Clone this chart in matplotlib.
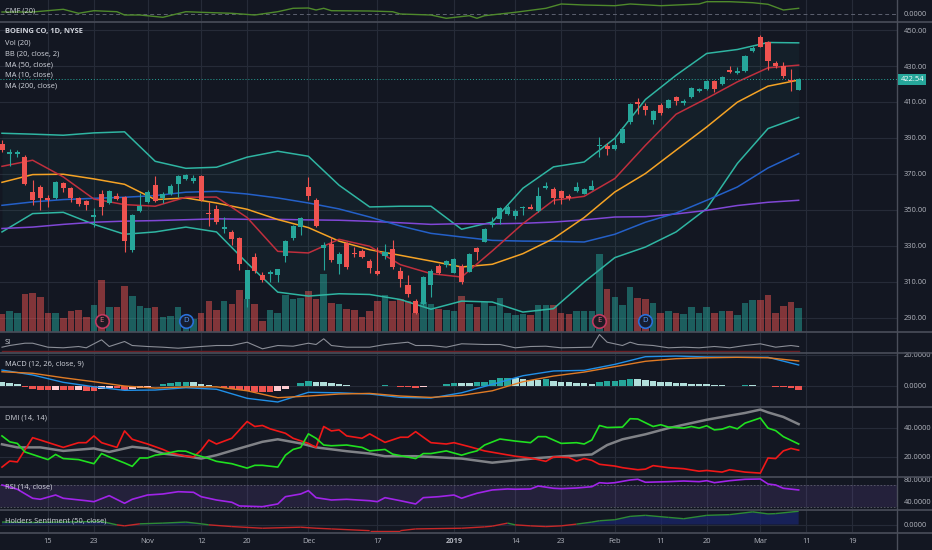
import numpy as np
import pandas as pd
import matplotlib
matplotlib.use("Agg")
import matplotlib.pyplot as plt
from matplotlib.lines import Line2D
from matplotlib.collections import LineCollection
from matplotlib.transforms import blended_transform_factory

plt.rcParams['font.family'] = ['Open Sans', 'DejaVu Sans']

# ---------------- data ----------------
FIRST_BAR = "2018-10-05"
LAST_AXIS_DAY = "2019-03-29"
HOLIDAYS = ["2018-11-22", "2018-12-05", "2018-12-25", "2019-01-01", "2019-01-21", "2019-02-18"]

TICK_DATES = ["2018-10-15", "2018-10-23", "2018-11-01", "2018-11-12", "2018-11-20", "2018-12-03",
              "2018-12-17", "2019-01-02", "2019-01-14", "2019-01-23", "2019-02-01", "2019-02-11",
              "2019-02-20", "2019-03-01", "2019-03-11", "2019-03-19"]
TICK_LABELS = ["15", "23", "Nov", "12", "20", "Dec", "17", "2019", "14", "23", "Feb", "11",
               "20", "Mar", "11", "19"]

OPEN = [386.5, 380.8, 381.0, 379.4, 359.9, 362.7, 356.6, 356.8, 365.0, 362.0,
        356.4, 354.9, 346.0, 358.7, 353.8, 357.5, 357.1, 327.5, 349.3, 354.4,
        363.7, 356.3, 358.7, 364.1, 367.4, 366.1, 368.7, 348.2, 350.7, 339.3,
        337.7, 334.3, 300.6, 323.7, 313.9, 314.3, 313.9, 324.3, 334.5, 340.4,
        362.7, 355.3, 328.7, 331.2, 320.1, 331.7, 326.2, 326.9, 321.3, 315.8,
        324.1, 328.0, 315.8, 308.0, 299.4, 297.4, 307.9, 318.7, 319.5, 315.0,
        318.5, 315.4, 328.9, 332.1, 341.4, 345.1, 347.5, 346.6, 351.0, 351.6,
        349.3, 362.2, 361.4, 360.3, 357.5, 360.5, 359.0, 361.3, 385.4, 385.4,
        384.1, 387.2, 398.6, 410.1, 407.8, 399.9, 408.2, 406.9, 412.5, 409.2,
        412.5, 415.9, 417.1, 421.8, 419.8, 427.7, 426.2, 427.2, 438.3, 446.3,
        443.1, 431.5, 430.0, 422.5, 416.6]
HIGH = [388.7, 383.7, 383.2, 380.3, 366.4, 363.7, 358.1, 365.9, 365.3, 362.5,
        357.0, 355.3, 350.9, 360.9, 360.9, 359.2, 357.5, 347.5, 359.2, 360.9,
        368.7, 359.9, 364.2, 369.2, 369.8, 369.2, 369.2, 354.4, 352.5, 346.0,
        338.6, 334.9, 316.3, 325.8, 315.4, 316.3, 317.3, 333.0, 341.4, 346.0,
        368.0, 356.8, 332.1, 334.9, 326.5, 332.1, 329.3, 328.0, 322.8, 329.3,
        331.2, 333.0, 318.2, 313.5, 300.6, 313.0, 317.3, 320.0, 321.9, 323.0,
        320.0, 325.8, 329.3, 339.7, 346.0, 351.6, 352.5, 350.7, 352.0, 353.5,
        362.7, 365.5, 362.7, 360.9, 359.0, 365.5, 362.0, 366.4, 390.6, 386.9,
        390.6, 396.0, 409.3, 412.0, 409.2, 405.4, 409.2, 411.6, 413.2, 411.6,
        418.3, 417.7, 422.2, 422.2, 424.4, 429.9, 429.2, 436.1, 441.1, 447.2,
        444.0, 432.9, 432.3, 428.1, 423.1]
LOW = [382.0, 374.2, 379.5, 363.7, 352.5, 349.7, 351.4, 356.2, 359.8, 354.2,
       352.0, 349.7, 340.3, 346.9, 353.0, 355.3, 326.5, 326.5, 348.8, 353.6,
       354.2, 353.6, 358.1, 357.0, 366.4, 364.8, 354.8, 340.8, 342.2, 336.9,
       330.2, 316.3, 295.9, 314.7, 309.8, 309.8, 309.8, 320.9, 333.0, 335.8,
       355.3, 340.4, 316.3, 320.9, 314.5, 317.3, 323.7, 323.0, 314.8, 313.5,
       322.8, 317.3, 307.0, 301.4, 292.2, 296.8, 301.4, 314.5, 318.2, 314.7,
       308.9, 315.2, 321.9, 331.9, 340.4, 342.3, 347.0, 345.1, 347.0, 350.7,
       348.8, 361.8, 353.5, 353.5, 355.3, 359.9, 358.7, 360.9, 379.4, 380.4,
       383.2, 387.1, 398.0, 403.2, 402.7, 398.0, 402.7, 406.6, 408.2, 408.2,
       412.1, 415.5, 416.6, 415.6, 419.4, 426.4, 425.5, 426.6, 437.6, 440.5,
       427.7, 428.7, 423.1, 416.2, 416.4]
CLOSE = [383.2, 382.2, 382.0, 364.2, 355.3, 356.6, 355.3, 365.3, 362.2, 356.4,
         353.1, 352.5, 346.9, 351.4, 360.5, 355.9, 332.6, 346.9, 352.0, 359.9,
         354.8, 358.7, 363.3, 368.7, 369.1, 367.7, 355.3, 347.5, 343.2, 340.3,
         334.0, 319.7, 316.3, 315.9, 311.1, 315.4, 316.9, 332.5, 341.0, 345.5,
         357.9, 340.8, 330.6, 321.9, 325.2, 318.2, 325.4, 323.7, 317.6, 314.5,
         326.5, 318.2, 311.7, 303.0, 292.8, 312.6, 315.8, 314.8, 321.3, 322.4,
         309.8, 325.6, 326.5, 339.2, 342.5, 351.0, 351.6, 349.2, 351.6, 350.7,
         357.5, 363.3, 356.6, 356.6, 356.6, 362.7, 361.4, 363.3, 386.0, 383.7,
         385.8, 395.2, 408.6, 408.6, 405.4, 405.0, 403.9, 411.0, 410.6, 410.5,
         417.9, 417.0, 421.6, 417.5, 424.0, 426.8, 427.2, 435.7, 440.1, 440.7,
         432.9, 430.0, 424.5, 421.8, 422.54]
VOLUME_M = [2.6, 3.0, 2.7, 5.6, 5.7, 5.1, 2.7, 2.7, 2.0, 3.0,
            3.2, 2.1, 4.0, 7.7, 3.6, 3.6, 6.8, 5.3, 3.8, 3.5,
            3.7, 2.1, 2.3, 3.7, 2.1, 1.8, 2.8, 4.5, 3.2, 4.5,
            4.1, 6.2, 4.8, 4.1, 1.5, 3.2, 2.7, 5.4, 4.9, 5.0,
            6.0, 4.8, 8.6, 4.2, 4.1, 3.3, 3.2, 2.1, 3.0, 4.5,
            5.4, 4.5, 4.9, 4.5, 2.8, 4.4, 4.1, 3.3, 3.2, 3.0,
            5.3, 4.1, 3.7, 4.4, 3.8, 5.0, 2.8, 2.4, 2.6, 2.5,
            3.9, 3.9, 4.0, 2.8, 2.6, 3.0, 3.0, 3.0, 11.6, 6.3,
            5.2, 3.9, 6.6, 5.0, 4.8, 4.2, 2.8, 3.0, 2.8, 2.6,
            3.7, 2.8, 3.7, 2.7, 3.0, 3.0, 2.4, 4.2, 4.7, 4.7,
            5.4, 2.7, 3.8, 4.4, 3.5]
LAST_PRICE = 422.54
EARNINGS_DATES = ["2018-10-24", "2019-01-30"]
DIVIDEND_DATES = ["2018-11-08", "2019-02-07"]

# overlays read every 4th bar
OVL_IDX = [0, 4, 8, 12, 16, 20, 24, 28, 32, 36, 40, 44, 48, 52, 56, 60, 64, 68, 72, 76,
           80, 84, 88, 92, 96, 100, 104]
BB_UPPER = [392.6, 392.1, 391.5, 392.8, 393.4, 377.0, 373.1, 373.7, 379.3, 382.6, 379.8, 363.7,
            351.6, 352.0, 352.0, 339.2, 343.2, 362.0, 373.9, 376.6, 389.8, 411.4, 424.9, 437.0,
            439.2, 443.1, 442.9]
BB_LOWER = [337.7, 347.9, 348.6, 341.9, 336.4, 337.7, 340.4, 337.7, 320.4, 304.2, 302.0, 303.3,
            302.9, 300.1, 294.7, 299.2, 298.7, 293.1, 295.0, 309.8, 323.4, 329.3, 337.7, 350.7,
            375.8, 395.2, 401.4]
BB_BASIS = [365.3, 369.6, 369.8, 367.2, 364.2, 355.7, 356.6, 353.8, 350.3, 344.6, 340.1, 332.6,
            327.8, 324.7, 321.5, 318.2, 319.7, 325.6, 334.0, 345.7, 359.9, 370.2, 383.2, 396.1,
            409.9, 418.8, 422.2]
MA10 = [374.2, 377.6, 368.3, 356.0, 352.9, 352.0, 357.0, 357.1, 345.7, 326.9, 326.0, 333.6,
        329.7, 319.5, 314.5, 312.6, 327.1, 342.3, 355.3, 357.5, 367.4, 385.9, 403.2, 412.0,
        421.2, 429.0, 430.5]
MA50 = [352.5, 354.4, 355.7, 356.4, 357.0, 357.9, 359.8, 360.3, 358.8, 356.6, 353.8, 350.5,
        346.0, 341.0, 336.9, 334.9, 333.0, 332.6, 332.5, 332.1, 336.4, 343.1, 348.2, 355.3,
        362.7, 373.3, 381.3]
MA200 = [339.6, 340.4, 341.9, 343.1, 343.7, 344.0, 344.5, 345.0, 344.7, 344.7, 344.4, 344.2,
         343.6, 342.8, 341.9, 342.3, 342.2, 342.5, 343.2, 344.4, 346.0, 346.2, 347.7, 349.7,
         352.4, 354.2, 355.3]
MACD_LINE = [10.2, 7.0, 2.2, -0.7, -3.0, -2.8, -1.3, -2.3, -8.2, -10.6, -4.3, -4.6, -5.4, -7.6,
             -8.0, -4.6, 0.9, 6.5, 9.6, 10.0, 13.9, 18.9, 19.3, 18.7, 18.5, 18.5, 13.5]
MACD_SIGNAL = [9.1, 8.1, 5.2, 2.6, -0.2, -1.5, -0.8, -0.7, -3.3, -7.8, -6.7, -5.4, -5.0, -6.7,
               -7.6, -6.3, -3.3, 2.6, 6.3, 8.9, 12.4, 15.9, 17.6, 18.2, 18.5, 18.2, 16.1]
MACD_HIST = [2.2, 1.5, 1.1, -0.7, -2.0, -2.8, -2.8, -2.6, -2.8, -3.0,
             -2.8, -3.3, -3.3, -2.4, -1.7, -1.7, -2.8, -2.4, -1.3, -0.7,
             0.0, 0.9, 1.5, 2.2, 2.6, 2.4, 1.3, 0.2, -0.4, -1.3,
             -2.2, -3.0, -3.7, -4.1, -4.3, -4.3, -3.7, -2.2, -0.4, 1.5,
             3.3, 2.6, 2.6, 1.5, 1.1, 0.2, 0.0, 0.0, -0.4, 0.0,
             0.2, 0.0, -0.7, -1.1, -1.7, -1.1, -0.4, 0.0, 1.1, 1.5,
             1.5, 1.5, 2.2, 2.6, 3.7, 4.8, 5.2, 4.8, 4.1, 3.7,
             3.7, 4.1, 3.3, 2.6, 2.2, 2.0, 1.5, 1.1, 2.6, 3.0,
             3.3, 3.7, 4.3, 4.3, 3.7, 3.3, 2.6, 2.2, 2.0, 1.5,
             1.1, 0.9, 0.9, 0.4, 0.2, 0.05, 0.05, 0.2, 0.2, 0.1,
             -0.05, -0.7, -1.1, -1.7, -2.8]

CMF_IDX = [0, 4, 8, 10, 12, 15, 16, 18, 21, 24, 26, 30, 33, 36, 38, 40, 41, 42, 43, 48, 51,
           52, 56, 58, 61, 62, 63, 67, 71, 73, 76, 80, 82, 86, 91, 92, 95, 98, 100, 102, 104]
CMF = [0.04, 0.04, 0.094, 0.014, 0.066, 0.046, -0.02, -0.02, -0.066, 0.046, 0.034, 0.014,
       -0.02, 0.046, 0.114, 0.12, 0.08, 0.114, 0.066, 0.06, 0.046, 0.0, -0.02, -0.086, -0.034,
       -0.086, -0.034, 0.034, 0.114, 0.2, 0.18, 0.166, 0.2, 0.166, 0.2, 0.246, 0.246, 0.226,
       0.194, 0.08, 0.114]

SI_IDX = [0, 1, 3, 4, 6, 8, 10, 11, 13, 14, 16, 17, 19, 21, 23, 26, 28, 30, 32, 34, 36, 38,
          40, 41, 42, 43, 45, 48, 50, 53, 54, 56, 58, 60, 63, 65, 67, 69, 71, 73, 77, 78, 79,
          81, 82, 83, 85, 87, 89, 91, 93, 95, 97, 99, 101, 103, 104]
SI = [4.3, 6.0, 8.3, 8.3, 4.3, 3.7, 5.0, 3.7, 11.7, 5.0, 10.0, 6.0, 5.0, 4.3, 3.3, 5.0, 6.0,
      6.0, 9.3, 2.7, 6.0, 5.3, 8.3, 7.0, 12.7, 6.0, 4.3, 4.3, 7.0, 9.3, 6.0, 6.0, 4.3, 7.7,
      7.0, 7.0, 3.7, 5.0, 5.3, 3.7, 4.3, 17.0, 9.3, 6.0, 9.3, 7.0, 6.0, 3.7, 4.3, 3.7, 5.0,
      3.7, 6.0, 7.7, 4.3, 6.0, 5.0]

PDI_IDX = [0, 1, 2, 3, 6, 7, 8, 10, 12, 13, 14, 16, 17, 18, 19, 20, 21, 23, 24, 25, 27, 28,
           30, 32, 33, 34, 36, 37, 38, 39, 40, 41, 42, 43, 45, 47, 48, 50, 51, 54, 55, 56, 58,
           60, 61, 62, 63, 65, 67, 69, 70, 71, 73, 75, 76, 77, 78, 79, 81, 82, 83, 85, 86, 87,
           89, 90, 91, 92, 93, 94, 95, 96, 97, 99, 100, 101, 102, 104]
PLUS_DI = [34.3, 30.3, 29.2, 23.4, 18.2, 21.7, 18.9, 18.2, 15.4, 22.3, 20.0, 15.9, 13.6, 19.3,
           19.3, 21.2, 21.9, 24.1, 23.9, 21.9, 18.9, 17.0, 15.4, 12.4, 14.3, 14.3, 13.1, 21.2,
           25.1, 26.5, 35.7, 32.7, 28.1, 27.6, 28.1, 26.5, 24.1, 25.1, 21.9, 18.9, 22.3, 22.3,
           24.1, 21.2, 22.8, 24.1, 28.1, 32.2, 30.8, 29.7, 33.8, 33.8, 29.2, 29.7, 28.8, 31.5,
           41.4, 40.0, 40.3, 46.0, 45.8, 40.7, 41.9, 40.3, 39.6, 40.7, 39.6, 41.2, 38.4, 38.9,
           40.7, 39.1, 43.0, 46.5, 39.6, 37.9, 33.8, 28.8]
MDI_IDX = [0, 1, 2, 4, 5, 8, 10, 11, 12, 13, 15, 16, 17, 19, 21, 22, 24, 25, 26, 27, 28, 30,
           32, 33, 34, 35, 37, 38, 40, 41, 42, 43, 44, 45, 47, 48, 50, 52, 53, 54, 55, 56, 58,
           59, 61, 63, 65, 67, 69, 71, 72, 74, 75, 76, 77, 78, 80, 81, 83, 84, 85, 87, 89, 91,
           92, 94, 95, 97, 99, 100, 101, 102, 103, 104]
MINUS_DI = [13.1, 17.2, 16.6, 33.1, 31.5, 26.5, 29.7, 29.7, 34.3, 29.7, 26.5, 37.7, 32.0, 28.8,
            25.1, 22.8, 20.5, 20.0, 24.6, 31.5, 28.8, 32.7, 44.1, 40.7, 41.4, 39.1, 36.1, 32.7,
            29.2, 26.5, 40.7, 37.7, 38.4, 34.3, 32.7, 35.7, 29.9, 33.4, 33.4, 37.2, 33.4, 29.7,
            28.8, 29.7, 27.0, 24.1, 22.3, 20.5, 19.3, 17.0, 20.0, 19.6, 17.2, 18.9, 17.7, 15.0,
            13.8, 12.7, 11.3, 11.7, 14.1, 12.7, 12.0, 10.3, 10.8, 9.7, 11.3, 9.7, 9.0, 19.3,
            18.9, 24.1, 25.8, 24.6]
ADX_IDX = [0, 2, 5, 8, 12, 14, 17, 19, 21, 24, 26, 28, 31, 34, 36, 39, 41, 45, 48, 50, 54, 56,
           60, 64, 67, 70, 72, 77, 79, 81, 84, 87, 92, 95, 97, 99, 100, 102, 104]
ADX = [28.6, 26.5, 26.5, 24.1, 25.8, 23.4, 26.9, 25.8, 22.3, 20.5, 18.9, 21.2, 25.8, 30.3, 32.0,
       29.2, 26.5, 23.9, 22.3, 20.5, 20.5, 20.0, 18.9, 16.1, 17.7, 19.3, 20.0, 21.7, 28.1, 32.0,
       35.4, 39.6, 45.3, 48.1, 49.9, 52.2, 50.3, 47.2, 42.3]

RSI_IDX = [0, 2, 4, 5, 7, 8, 11, 12, 14, 16, 17, 19, 21, 23, 25, 26, 28, 30, 31, 34, 36, 37,
           39, 40, 41, 43, 45, 48, 49, 50, 52, 54, 55, 57, 59, 60, 61, 62, 64, 66, 67, 69, 70,
           72, 73, 75, 77, 78, 79, 80, 82, 83, 84, 87, 89, 91, 92, 93, 95, 97, 99, 100, 101,
           102, 104]
RSI = [70.8, 62.9, 46.3, 44.4, 52.3, 46.3, 41.8, 40.0, 51.1, 37.0, 44.4, 52.3, 54.2, 58.4, 57.3,
       49.2, 43.1, 38.9, 32.1, 30.8, 35.8, 49.2, 54.2, 60.3, 47.4, 43.1, 44.4, 41.8, 40.0, 47.4,
       41.8, 35.8, 47.4, 49.2, 52.3, 46.3, 51.1, 55.5, 61.6, 63.4, 62.9, 63.4, 68.9, 64.7, 64.0,
       65.2, 67.6, 75.0, 73.9, 75.0, 80.0, 81.3, 75.8, 76.9, 78.1, 76.9, 78.7, 75.0, 78.7, 81.3,
       81.8, 72.6, 70.8, 64.7, 61.6]

HOLD_IDX = [0, 4, 13, 15, 16, 18, 21, 24, 26, 27, 30, 34, 39, 41, 43, 48, 52, 54, 60, 63, 64,
            66, 67, 69, 71, 73, 75, 77, 78, 80, 82, 84, 87, 89, 92, 95, 98, 100, 101, 104]
HOLDERS = [2.4, 2.0, 3.0, -0.3, -1.3, 0.7, 1.4, 2.4, 0.7, -0.3, -2.0, -3.6, -2.6, -3.6, -4.3,
           -6.0, -6.0, -4.3, -3.6, -2.3, -1.6, 1.4, -0.3, -1.3, -2.0, -1.3, 0.4, 2.4, 3.7, 4.7,
           8.0, 9.0, 7.0, 5.7, 9.0, 9.7, 12.4, 10.4, 10.7, 13.0]

# ---------------- styling ----------------
BG = '#131722'
GRID = '#262b38'
SEP = '#4a4e5a'
TXT = '#b2b5be'
UP = '#26a69a'
DOWN = '#ef5350'
FS = 5.4

W, H = 932, 550
PLOT_R = 897

cal = pd.bdate_range(FIRST_BAR, LAST_AXIS_DAY)
cal = cal[~cal.isin(pd.to_datetime(HOLIDAYS))]
pos = {d.strftime('%Y-%m-%d'): i for i, d in enumerate(cal)}
tick_x = [pos[d] for d in TICK_DATES]

x = np.arange(len(CLOSE))
o = np.array(OPEN); h = np.array(HIGH); l = np.array(LOW); c = np.array(CLOSE)
up = c >= o

fig = plt.figure(figsize=(W / 100, H / 100), dpi=100, facecolor=BG)
XLIM = (-0.26, 116.84)


def panel(y0, y1, zorder=1):
    ax = fig.add_axes([0, 1 - y1 / H, PLOT_R / W, (y1 - y0) / H], zorder=zorder)
    ax.set_facecolor('none')
    for s in ax.spines.values():
        s.set_visible(False)
    ax.set_xlim(*XLIM)
    ax.set_xticks(tick_x)
    ax.tick_params(axis='x', length=0, labelbottom=False)
    ax.yaxis.tick_right()
    ax.tick_params(axis='y', length=0, pad=5, labelsize=FS, colors=TXT)
    ax.grid(True, color=GRID, lw=0.8, zorder=0)
    ax.set_axisbelow(True)
    return ax


def label(ax_y, text, bold=False):
    fig.text(5 / W, 1 - ax_y / H, text, color='#d1d4dc', fontsize=FS,
             fontweight='bold' if bold else 'normal', va='center', ha='left')


# ---- volume (behind) ----
axv = fig.add_axes([0, 1 - 331.5 / H, PLOT_R / W, (331.5 - 22) / H], zorder=0)
axv.set_facecolor(BG)
for s in axv.spines.values():
    s.set_visible(False)
axv.set_xlim(*XLIM)
axv.set_ylim(0, 46.4)
axv.set_xticks([]); axv.set_yticks([])
vcol = [UP if u else DOWN for u in up]
axv.bar(x, VOLUME_M, width=0.86, color=vcol, alpha=0.5, lw=0)
for d in EARNINGS_DATES:
    axv.scatter([pos[d]], [1.6], s=95, facecolor='#1e1a24', edgecolor='#c0395f', lw=1.2, zorder=5)
    axv.text(pos[d], 1.6, 'E', color='#ec6f86', fontsize=5.6, ha='center', va='center', zorder=6)
for d in DIVIDEND_DATES:
    axv.scatter([pos[d]], [1.6], s=95, facecolor='#161d30', edgecolor='#2a6fd8', lw=1.2, zorder=5)
    axv.text(pos[d], 1.6, 'D', color='#5a9af5', fontsize=5.6, ha='center', va='center', zorder=6)
for tx in tick_x:
    axv.axvline(tx, color=GRID, lw=0.8, zorder=0)

# ---- main price panel ----
ax = panel(22, 331.5, zorder=2)
ax.grid(False)
ax.set_ylim(282.3, 454.5)
pticks = [290, 310, 330, 350, 370, 390, 410, 430, 450]
ax.set_yticks(pticks, [f'{t:.2f}' for t in pticks])
for t in pticks:
    axv.axhline((t - 282.3) / (454.5 - 282.3) * 46.4, color=GRID, lw=0.8, zorder=0)

ov = np.array(OVL_IDX)
ax.fill_between(ov, BB_LOWER, BB_UPPER, color='#26a69a', alpha=0.06, lw=0)
ax.plot(ov, BB_UPPER, color='#2fb5a2', lw=1.1, solid_joinstyle='round')
ax.plot(ov, BB_LOWER, color='#2fb5a2', lw=1.1, solid_joinstyle='round')
ax.plot(ov, MA200, color='#8047d6', lw=1.1)
ax.plot(ov, MA50, color='#2460c8', lw=1.1)
ax.plot(ov, BB_BASIS, color='#f5a325', lw=1.1, solid_joinstyle='round')
ax.plot(ov, MA10, color='#c02f3d', lw=1.1, solid_joinstyle='round')

col = np.where(up, UP, DOWN)
ax.vlines(x, l, h, colors=col, lw=0.8, zorder=3)
body_lo = np.minimum(o, c)
body_h = np.maximum(np.abs(c - o), 0.35)
ax.bar(x, body_h, bottom=body_lo, width=0.66, color=col, lw=0, zorder=4)

ax.axhline(LAST_PRICE, color=UP, lw=0.7, ls=(0, (1, 2)), zorder=2)
tr = blended_transform_factory(ax.transAxes, ax.transData)
ax.text(1.004, LAST_PRICE, f'{LAST_PRICE:.2f}', transform=tr, color='white', fontsize=FS,
        va='center', ha='left',
        bbox=dict(boxstyle='square,pad=0.3', fc=UP, ec='none'), clip_on=False, zorder=10)

label(32, 'BOEING CO, 1D, NYSE', bold=True)
for i, t in enumerate(['Vol (20)', 'BB (20, close, 2)', 'MA (50, close)', 'MA (10, close)',
                       'MA (200, close)']):
    label(43 + i * 10.8, t)

# ---- CMF ----
axc = panel(0, 21)
axc.set_ylim(-0.14, 0.28)
axc.set_yticks([0], ['0.0000'])
axc.grid(axis='y', visible=False)
axc.axhline(0, color='#5d6170', lw=0.7, ls=(0, (4, 3)))
axc.plot(CMF_IDX, CMF, color='#4f8a2c', lw=1.0)
label(11, 'CMF (20)')

# ---- SI ----
axs = panel(332.5, 352.5)
axs.set_ylim(-1, 19)
axs.set_yticks([])
axs.plot(SI_IDX, SI, color='#8a8d96', lw=0.8)
axs.plot([0, len(CLOSE) - 1], [0.3, 0.3], color='#6a1e24', lw=1.0)
label(342, 'SI')

# ---- MACD ----
axm = panel(353, 406)
axm.set_ylim(-13.2, 21.3)
axm.set_yticks([0, 20], ['0.0000', '20.0000'])
hist = np.array(MACD_HIST)
prev = np.r_[hist[0], hist[:-1]]
hcol = np.where(hist >= 0, np.where(hist > prev, '#26a69a', '#b2dfdb'),
                np.where(hist > prev, '#ffcdd2', '#ef5350'))
axm.bar(x, hist, width=0.86, color=hcol, lw=0, zorder=2)
axm.plot(ov, MACD_LINE, color='#2190e8', lw=1.0, zorder=3)
axm.plot(ov, MACD_SIGNAL, color='#e07b25', lw=1.0, zorder=3)
label(364, 'MACD (12, 26, close, 9)')

# ---- DMI ----
axd = panel(406.5, 476.5)
axd.set_ylim(6.7, 54.3)
axd.set_yticks([20, 40], ['20.0000', '40.0000'])
axd.plot(ADX_IDX, ADX, color='#808287', lw=1.8, zorder=2)
axd.plot(MDI_IDX, MINUS_DI, color='#f01818', lw=1.2, zorder=3)
axd.plot(PDI_IDX, PLUS_DI, color='#20e020', lw=1.2, zorder=3)
label(418, 'DMI (14, 14)')

# ---- RSI ----
axr = panel(477, 509)
axr.set_ylim(26.5, 85.5)
axr.set_yticks([40, 80], ['40.0000', '80.0000'])
axr.grid(axis='y', visible=False)
axr.axhspan(30, 70, color='#7e57c2', alpha=0.16, lw=0)
axr.axhline(70, color='#5c5f6b', lw=0.6, ls=(0, (2, 2)))
axr.axhline(30, color='#5c5f6b', lw=0.6, ls=(0, (2, 2)))
axr.plot(RSI_IDX, RSI, color='#a024e8', lw=1.2, zorder=3)
label(487, 'RSI (14, close)')

# ---- Holders sentiment ----
axh = panel(509.5, 532)
axh.set_ylim(-7.3, 14.7)
axh.set_yticks([0], ['0.0000'])
hi = np.array(HOLD_IDX, float); hv = np.array(HOLDERS)
axh.fill_between(hi, 0, hv, where=hv > 0, interpolate=True, color='#1a2670', alpha=0.7, lw=0)
segs = [[(hi[i], hv[i]), (hi[i + 1], hv[i + 1])] for i in range(len(hi) - 1)]
scol = ['#2e8b34' if (hv[i] + hv[i + 1]) / 2 >= 0 else '#c62828' for i in range(len(hi) - 1)]
axh.add_collection(LineCollection(segs, colors=scol, lw=1.0, zorder=3))
axh.tick_params(axis='x', labelbottom=True, pad=4, labelsize=FS, colors=TXT)
axh.set_xticks(tick_x, TICK_LABELS)
for t in axh.get_xticklabels():
    if t.get_text() == '2019':
        t.set_fontweight('bold')
label(521, 'Holders Sentiment (50, close)')

# ---- separators ----
for yy in [21.5, 331.5, 352.5, 406.5, 476.5, 509.5, 532.5]:
    fig.add_artist(Line2D([0, 1], [1 - yy / H, 1 - yy / H], transform=fig.transFigure,
                          color=SEP, lw=1.2))
fig.add_artist(Line2D([PLOT_R / W, PLOT_R / W], [0, 1], transform=fig.transFigure,
                      color=SEP, lw=1.0))

fig.savefig('out.png', dpi=100, facecolor=BG)
